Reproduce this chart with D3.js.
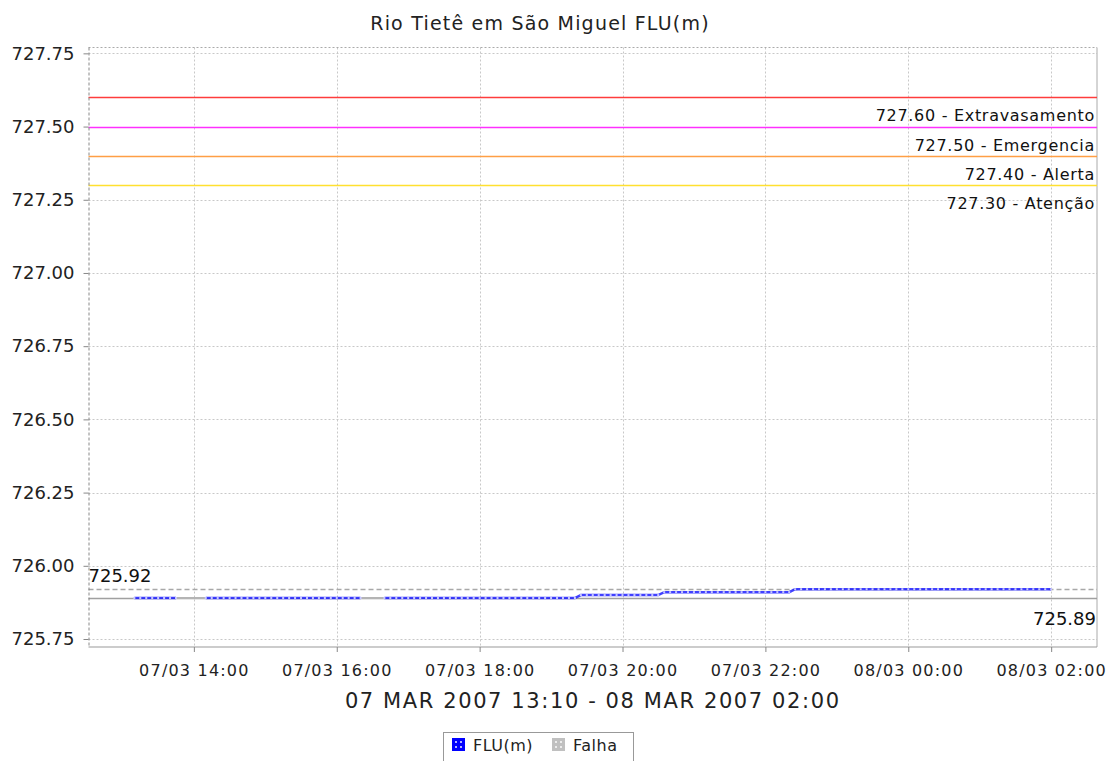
<!DOCTYPE html>
<html>
<head>
<meta charset="utf-8">
<script src="https://cdn.jsdelivr.net/npm/d3@7"></script>
<style>
  body { margin: 0; background: #fff; }
  svg { display: block; font-family: "DejaVu Sans", sans-serif; }
</style>
</head>
<body>
<svg width="1113" height="761"></svg>
<script>
// readings every 5 minutes from 07/03 13:10, null = falha
var startTime = new Date(2007, 2, 7, 13, 10);
var stepMinutes = 5;
var N = null;
var flu = [
  725.89, 725.89, 725.89, 725.89, 725.89, 725.89, 725.89, 725.89, N, N, N, N,
  725.89, 725.89, 725.89, 725.89, 725.89, 725.89, 725.89, 725.89, 725.89, 725.89, 725.89, 725.89,
  725.89, 725.89, 725.89, 725.89, 725.89, 725.89, 725.89, 725.89, 725.89, 725.89, 725.89, 725.89,
  725.89, 725.89, 725.89, N, N, N, 725.89, 725.89, 725.89, 725.89, 725.89, 725.89,
  725.89, 725.89, 725.89, 725.89, 725.89, 725.89, 725.89, 725.89, 725.89, 725.89, 725.89, 725.89,
  725.89, 725.89, 725.89, 725.89, 725.89, 725.89, 725.89, 725.89, 725.89, 725.89, 725.89, 725.89,
  725.89, 725.89, 725.89, 725.90, 725.90, 725.90, 725.90, 725.90, 725.90, 725.90, 725.90, 725.90,
  725.90, 725.90, 725.90, 725.90, 725.90, 725.91, 725.91, 725.91, 725.91, 725.91, 725.91, 725.91,
  725.91, 725.91, 725.91, 725.91, 725.91, 725.91, 725.91, 725.91, 725.91, 725.91, 725.91, 725.91,
  725.91, 725.91, 725.91, 725.92, 725.92, 725.92, 725.92, 725.92, 725.92, 725.92, 725.92, 725.92,
  725.92, 725.92, 725.92, 725.92, 725.92, 725.92, 725.92, 725.92, 725.92, 725.92, 725.92, 725.92,
  725.92, 725.92, 725.92, 725.92, 725.92, 725.92, 725.92, 725.92, 725.92, 725.92, 725.92, 725.92,
  725.92, 725.92, 725.92, 725.92, 725.92, 725.92, 725.92, 725.92, 725.92, 725.92, 725.92
];

var thresholdValues = [727.60, 727.50, 727.40, 727.30];
var thresholdNames = ["Extravasamento", "Emergencia", "Alerta", "Atenção"];
var thresholdColors = ["#ff3c3c", "#ff30ff", "#ff9f45", "#ffe030"];

var maxValue = 725.92, minValue = 725.89;
var yTicks = [725.75, 726.00, 726.25, 726.50, 726.75, 727.00, 727.25, 727.50, 727.75];
var legendNames = ["FLU(m)", "Falha"];

var svg = d3.select("svg");
var pLeft = 88.5, pRight = 1097, pTop = 47.5, pBottom = 647;

var data = flu.map(function(v, i) {
  return { t: d3.timeMinute.offset(startTime, i * stepMinutes), v: v };
});

var x = d3.scaleTime()
  .domain([new Date(2007, 2, 7, 12, 31, 30), new Date(2007, 2, 8, 2, 38, 30)])
  .range([pLeft, pRight]);
var y = d3.scaleLinear().domain([725.7227, 727.77]).range([pBottom, pTop]);

// gridlines
var grid = svg.append("g").attr("stroke", "#c8c8c8").attr("stroke-dasharray", "2,2");
grid.selectAll(".gy").data(yTicks).enter().append("line")
  .attr("x1", pLeft).attr("x2", pRight)
  .attr("y1", function(d) { return Math.round(y(d)) + 0.5; })
  .attr("y2", function(d) { return Math.round(y(d)) + 0.5; });
var xTicks = x.ticks(d3.timeHour.every(2)).filter(function(d) { return x(d) > pLeft + 5; });
grid.selectAll(".gx").data(xTicks).enter().append("line")
  .attr("y1", pTop).attr("y2", pBottom)
  .attr("x1", function(d) { return Math.round(x(d)) + 0.5; })
  .attr("x2", function(d) { return Math.round(x(d)) + 0.5; });

// plot outline
svg.append("line").attr("x1", pLeft).attr("x2", pRight).attr("y1", pTop).attr("y2", pTop)
  .attr("stroke", "#aaa").attr("stroke-dasharray", "2,2");
svg.append("line").attr("x1", pRight).attr("x2", pRight).attr("y1", pTop).attr("y2", pBottom)
  .attr("stroke", "#aaa");
svg.append("line").attr("x1", pLeft).attr("x2", pRight).attr("y1", pBottom).attr("y2", pBottom)
  .attr("stroke", "#999");

// thresholds
thresholdValues.forEach(function(v, i) {
  var yy = Math.round(y(v)) + 0.5;
  svg.append("line").attr("x1", pLeft).attr("x2", pRight).attr("y1", yy).attr("y2", yy)
    .attr("stroke", thresholdColors[i]).attr("stroke-width", 1.5);
  svg.append("text").attr("x", 1095).attr("y", yy + 23)
    .attr("text-anchor", "end").attr("font-size", 16).attr("fill", "#111")
    .style("letter-spacing", "0.7px")
    .text(d3.format(".2f")(v) + " - " + thresholdNames[i]);
});

// max / min lines
var yMax = Math.round(y(maxValue)) + 0.5, yMin = Math.round(y(minValue)) + 0.5;
svg.append("line").attr("x1", pLeft).attr("x2", pRight).attr("y1", yMax).attr("y2", yMax)
  .attr("stroke", "#a8a8a8").attr("stroke-width", 1.5).attr("stroke-dasharray", "5,3");
svg.append("line").attr("x1", pLeft).attr("x2", pRight).attr("y1", yMin).attr("y2", yMin)
  .attr("stroke", "#a0a0a0").attr("stroke-width", 1.5);
svg.append("text").attr("x", pLeft).attr("y", yMax - 8).attr("font-size", 18).attr("fill", "#111")
  .text(d3.format(".2f")(maxValue));
svg.append("text").attr("x", 1096).attr("y", yMin + 26).attr("text-anchor", "end")
  .attr("font-size", 18).attr("fill", "#111").text(d3.format(".2f")(minValue));

// falha segments: bridge the gaps in gray
var gaps = [];
data.forEach(function(d, i) {
  if (d.v === null && i > 0 && data[i - 1].v !== null) {
    var j = i;
    while (j < data.length && data[j].v === null) j++;
    if (j < data.length) gaps.push([data[i - 1], data[j]]);
  }
});
svg.append("g").selectAll("line").data(gaps).enter().append("line")
  .attr("x1", function(d) { return x(d[0].t); })
  .attr("x2", function(d) { return x(d[1].t); })
  .attr("y1", function(d) { return y(d[0].v); })
  .attr("y2", function(d) { return y(d[1].v); })
  .attr("stroke", "#b4b4b4").attr("stroke-width", 2);

// series
var line = d3.line()
  .defined(function(d) { return d.v !== null; })
  .x(function(d) { return x(d.t); })
  .y(function(d) { return y(d.v); });
svg.append("path").datum(data).attr("d", line)
  .attr("fill", "none").attr("stroke", "#1f1fff").attr("stroke-width", 2.5).attr("opacity", 0.85);
svg.append("g").selectAll("rect")
  .data(data.filter(function(d) { return d.v !== null; }))
  .enter().append("rect")
  .attr("x", function(d) { return x(d.t) - 1; })
  .attr("y", function(d) { return y(d.v) - 1; })
  .attr("width", 2).attr("height", 2)
  .attr("fill", "#c8c8ff");

// axes
var yAxis = d3.axisLeft(y).tickValues(yTicks).tickFormat(d3.format(".2f"))
  .tickSize(5).tickPadding(9);
var gy = svg.append("g").attr("transform", "translate(" + pLeft + ",0)").call(yAxis);
gy.select(".domain").attr("stroke", "#888").attr("stroke-dasharray", "3,2")
  .attr("d", "M0.5," + pTop + "V" + pBottom);
gy.selectAll(".tick line").attr("stroke", "#888");
gy.selectAll("text").attr("font-size", 18).attr("fill", "#222")
  .attr("font-family", "DejaVu Sans");

var xAxis = d3.axisBottom(x).tickValues(xTicks)
  .tickFormat(d3.timeFormat("%d/%m %H:%M")).tickSize(5).tickPadding(13);
var gx = svg.append("g").attr("transform", "translate(0," + pBottom + ")").call(xAxis);
gx.select(".domain").remove();
gx.selectAll(".tick line").attr("stroke", "#888");
gx.selectAll("text").attr("font-size", 16).attr("fill", "#222")
  .attr("font-family", "DejaVu Sans").style("letter-spacing", "1.2px");

// axis label and title
svg.append("text").attr("x", (pLeft + pRight) / 2).attr("y", 708).attr("text-anchor", "middle")
  .attr("font-size", 21).attr("fill", "#222").style("letter-spacing", "1.6px")
  .text("07 MAR 2007 13:10 - 08 MAR 2007 02:00");
svg.append("text").attr("x", 540).attr("y", 30).attr("text-anchor", "middle")
  .attr("font-size", 19).attr("fill", "#222").style("letter-spacing", "1.2px")
  .text("Rio Tietê em São Miguel FLU(m)");

// legend
var legend = svg.append("g");
legend.append("rect").attr("x", 443.5).attr("y", 732.5).attr("width", 190).attr("height", 32)
  .attr("fill", "#fff").attr("stroke", "#999");
var legendColors = ["#0000ff", "#c0c0c0"];
var legendX = [452, 552];
legendNames.forEach(function(name, i) {
  legend.append("rect").attr("x", legendX[i]).attr("y", 738).attr("width", 13).attr("height", 13)
    .attr("fill", legendColors[i]);
  [[3, 3], [8, 3], [3, 8], [8, 8]].forEach(function(p) {
    legend.append("rect").attr("x", legendX[i] + p[0]).attr("y", 738 + p[1])
      .attr("width", 2).attr("height", 2).attr("fill", "#fff").attr("opacity", 0.7);
  });
  legend.append("text").attr("x", legendX[i] + 21).attr("y", 751)
    .attr("font-size", 16).attr("fill", "#222").style("letter-spacing", "0.5px").text(name);
});
</script>
</body>
</html>
